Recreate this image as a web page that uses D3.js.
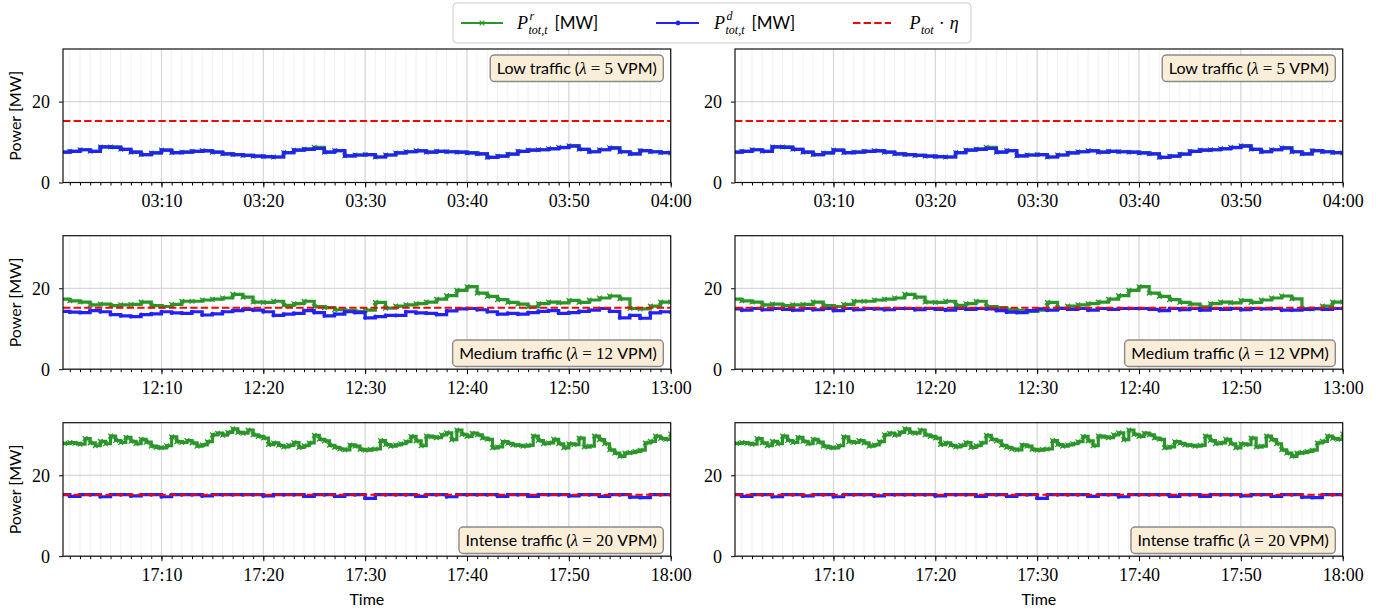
<!DOCTYPE html>
<html>
<head>
<meta charset="utf-8">
<script src="https://cdn.jsdelivr.net/npm/d3@7"></script>
<style>
  body { margin: 0; background: #fff; }
  .tick text { font-family: "Liberation Serif", serif; font-size: 18px; fill: #000; }
  .sans { font-family: "Lato", "Open Sans", sans-serif; }
  .serif { font-family: "Liberation Serif", serif; }
</style>
</head>
<body>
<div id="chart"></div>
<script>
// power values in MW, one value per minute unless noted
const lowReq = [7.5,7.7,8.1,7.7,8.8,8.8,8.2,7.5,6.9,7.3,8.0,7.4,7.5,7.7,7.9,7.5,7.1,6.9,6.7,6.5,
  6.4,6.3,7.4,8.0,8.3,8.7,7.5,7.9,6.6,6.8,6.9,6.3,6.8,7.3,7.6,7.9,7.5,7.7,7.6,7.5,
  7.3,7.1,6.2,6.5,7.0,7.7,8.0,8.1,8.4,8.7,9.1,8.2,7.6,8.1,8.6,7.6,7.1,7.9,7.6,7.4,7.3];
const lowDisp = [7.5,7.7,8.1,7.7,8.8,8.7,8.2,7.5,6.9,7.3,8.0,7.4,7.5,7.7,7.8,7.5,7.1,6.9,6.7,6.5,
  6.4,6.3,7.4,8.0,8.2,8.4,7.5,7.9,6.6,6.8,6.9,6.3,6.8,7.3,7.6,7.8,7.5,7.7,7.6,7.5,
  7.3,7.1,6.2,6.5,7.0,7.7,8.0,8.1,8.3,8.6,9.0,8.2,7.6,8.1,8.5,7.6,7.1,7.9,7.6,7.4,7.3];

const medReq = [17.3,16.9,16.6,15.9,16.1,15.7,15.9,16.0,16.6,15.7,
  15.5,16.0,16.8,16.8,17.1,17.3,17.6,18.5,17.8,16.6,
  16.5,16.8,15.8,16.2,16.8,15.5,15.2,14.7,14.5,14.3,
  14.6,16.5,15.1,15.6,15.9,16.2,16.6,17.3,18.2,19.5,
  20.4,18.8,18.0,17.2,16.5,16.1,15.4,16.2,16.6,16.4,
  17.0,16.5,17.1,17.6,18.1,17.4,15.0,14.9,15.6,16.6,16.6];
const medDispLeft = [14.3,14.1,14.0,14.5,14.2,13.5,13.2,13.0,13.5,13.7,
  14.2,13.9,13.8,14.2,13.4,13.7,14.2,14.5,14.8,14.6,
  14.2,13.3,13.6,13.8,14.5,14.0,13.2,13.6,14.2,14.0,
  12.7,13.0,13.3,13.3,14.2,13.9,13.8,13.5,14.4,14.9,
  15.0,14.7,14.2,13.6,13.8,13.6,14.0,14.3,14.5,13.8,
  14.0,14.3,14.6,15.0,14.3,12.7,13.3,12.6,13.9,14.2,14.1];
const medDispRight = [14.9,14.6,15.0,14.7,15.0,14.8,14.6,15.0,14.7,15.0,
  14.5,15.0,14.7,15.0,14.9,14.7,15.0,15.0,14.7,15.0,
  14.8,14.6,15.0,14.8,15.0,14.9,14.5,14.1,14.0,14.5,
  14.9,14.6,15.0,14.8,15.0,14.6,15.0,14.8,15.0,15.0,
  15.0,14.8,14.5,15.0,14.7,15.0,14.6,15.0,14.8,15.0,
  14.7,15.0,14.9,15.0,14.6,14.6,14.8,15.0,14.8,15.0,15.0];

// one value every 30 s
const highReq = [27.8,27.9,28.1,27.9,27.7,29.1,28.0,27.3,28.4,27.8,
  29.7,28.6,28.1,29.4,28.4,27.8,28.9,28.2,27.2,26.9,
  26.8,27.3,29.5,28.3,28.1,28.6,28.0,27.2,27.5,28.3,
  30.0,30.4,29.9,30.6,31.5,30.6,30.4,31.2,30.0,29.6,
  29.2,27.6,28.0,27.4,27.0,27.4,28.1,26.9,27.3,28.0,
  29.9,28.9,28.5,27.4,26.9,26.5,26.3,27.5,27.2,26.4,
  26.2,26.4,26.5,28.6,27.6,27.2,27.5,27.8,28.3,29.6,
  28.5,27.3,29.7,29.5,29.3,30.0,30.5,28.8,31.2,30.1,
  29.6,30.4,30.0,29.2,28.9,26.8,27.0,28.3,27.9,27.5,
  27.4,27.2,27.4,29.7,28.6,27.8,28.0,28.9,27.8,26.8,
  27.8,27.6,29.2,27.0,27.2,29.7,28.8,27.8,26.3,25.5,
  24.7,25.5,25.6,25.9,26.2,28.0,28.4,29.7,29.1,28.9,30.2];
const highDisp = [15.2,14.8,15.2,15.2,14.7,15.2,15.2,14.9,15.2,15.2,
  14.7,15.2,15.2,15.2,14.9,15.2,15.2,15.2,15.2,15.2,
  14.9,15.2,15.2,15.2,14.8,15.2,15.2,14.8,15.2,15.2,
  14.3,15.2,15.2,15.2,15.2,14.8,15.2,15.2,14.7,15.2,
  15.2,15.2,15.2,14.8,15.2,15.2,14.8,15.2,15.2,15.2,
  14.9,15.2,15.2,14.8,15.2,15.2,14.6,14.5,15.2,15.2,15.2];

const pTotEta = 15.2;
const scenarioNames = ['Low traffic', 'Medium traffic', 'Intense traffic'];
const lambdas = [5, 12, 20];
const startHours = [3, 12, 17];
const yTicks = [0, 20];

const green = '#2a962a', blue = '#2222f5', red = '#ff0000';

const svg = d3.select('#chart').append('svg')
    .attr('width', 1385)
    .attr('height', 614);

const colX = [63, 735], plotW = 607.7,
      rowY = [49, 235.7, 422.7], plotH = 133.5;

const yScale = d3.scaleLinear().domain([0, 33]).range([plotH, 0]);

const rows = [
  { req: lowReq, reqStep: 1, disp: [lowDisp, lowDisp], boxTop: true },
  { req: medReq, reqStep: 1, disp: [medDispLeft, medDispRight], boxTop: false },
  { req: highReq, reqStep: 0.5, disp: [highDisp, highDisp], boxTop: false }
];

function toSeries(base, values, stepMin) {
  return values.map((v, i) => ({ t: d3.timeSecond.offset(base, Math.round(i * stepMin * 60)), v: v }));
}

const xMark = d3.symbol().type(d3.symbolX).size(16);

rows.forEach((row, r) => {
  const base = new Date(2023, 0, 1, startHours[r], 0, 0);
  const xScale = d3.scaleTime()
      .domain([d3.timeSecond.offset(base, 20), d3.timeMinute.offset(base, 60)])
      .range([0, plotW]);
  const minorTicks = xScale.ticks(d3.timeMinute.every(1));
  const majorTicks = xScale.ticks(d3.timeMinute.every(10));
  const reqData = toSeries(base, row.req, row.reqStep);

  [0, 1].forEach(c => {
    const g = svg.append('g')
        .attr('transform', 'translate(' + colX[c] + ',' + rowY[r] + ')');
    const clipId = 'clip' + r + c;
    g.append('clipPath').attr('id', clipId)
      .append('rect').attr('x', 0).attr('y', -4).attr('width', plotW).attr('height', plotH + 8);

    // grid
    g.append('g').selectAll('line')
        .data(minorTicks)
      .enter().append('line')
        .attr('x1', d => xScale(d)).attr('x2', d => xScale(d))
        .attr('y1', 0).attr('y2', plotH)
        .style('stroke', '#efefef').style('stroke-width', 0.9);
    g.append('g').selectAll('line')
        .data(majorTicks)
      .enter().append('line')
        .attr('x1', d => xScale(d)).attr('x2', d => xScale(d))
        .attr('y1', 0).attr('y2', plotH)
        .style('stroke', '#d8d8d8').style('stroke-width', 1.2);
    g.append('g').selectAll('line')
        .data(yTicks)
      .enter().append('line')
        .attr('x1', 0).attr('x2', plotW)
        .attr('y1', d => yScale(d)).attr('y2', d => yScale(d))
        .style('stroke', '#d8d8d8').style('stroke-width', 1.2);

    // axes
    const minorAxis = g.append('g')
        .attr('transform', 'translate(0,' + plotH + ')')
        .call(d3.axisBottom(xScale).tickValues(minorTicks).tickSize(3).tickFormat(''));
    minorAxis.select('.domain').remove();
    const majorAxis = g.append('g')
        .attr('transform', 'translate(0,' + plotH + ')')
        .call(d3.axisBottom(xScale).tickValues(majorTicks).tickSize(5).tickFormat(d3.timeFormat('%H:%M')));
    majorAxis.select('.domain').remove();
    majorAxis.selectAll('.tick text').attr('dy', null).attr('y', 24.5);

    const yAxis = g.append('g')
        .call(d3.axisLeft(yScale).tickValues(yTicks).tickSize(4).tickPadding(9));
    yAxis.select('.domain').remove();
    yAxis.selectAll('.tick text').attr('dy', '0.34em');

    const plot = g.append('g').attr('clip-path', 'url(#' + clipId + ')');
    const line = d3.line()
        .x(d => xScale(d.t))
        .y(d => yScale(d.v))
        .curve(d3.curveStepAfter);

    plot.append('path')
        .datum(reqData)
        .attr('d', line)
        .style('fill', 'none').style('stroke', green).style('stroke-width', 3.2);
    plot.append('g').selectAll('path')
        .data(reqData)
      .enter().append('path')
        .attr('transform', d => 'translate(' + xScale(d.t) + ',' + yScale(d.v) + ')')
        .attr('d', xMark)
        .style('stroke', green).style('stroke-width', 1.2).style('fill', 'none');

    const dispData = toSeries(base, row.disp[c], 1);
    plot.append('path')
        .datum(dispData)
        .attr('d', line)
        .style('fill', 'none').style('stroke', blue).style('stroke-width', 3.2);
    plot.append('g').selectAll('circle')
        .data(dispData)
      .enter().append('circle')
        .attr('cx', d => xScale(d.t)).attr('cy', d => yScale(d.v))
        .attr('r', 2)
        .style('fill', blue);

    plot.append('line')
        .attr('x1', 0).attr('x2', plotW)
        .attr('y1', yScale(pTotEta)).attr('y2', yScale(pTotEta))
        .style('stroke', red).style('stroke-width', 2).style('stroke-dasharray', '7.4,3.2');

    g.append('rect')
        .attr('width', plotW).attr('height', plotH)
        .style('fill', 'none').style('stroke', '#111').style('stroke-width', 1.2);

    // scenario label box
    const boxG = g.append('g');
    const label = boxG.append('text')
        .attr('class', 'sans')
        .style('font-size', '16px');
    label.append('tspan').attr('class', 'sans').text(scenarioNames[r] + ' (');
    label.append('tspan').attr('class', 'serif').style('font-style', 'italic').style('font-size', '17px').text('λ');
    label.append('tspan').attr('class', 'serif').style('font-size', '17px').text(' = ' + lambdas[r]);
    label.append('tspan').attr('class', 'sans').text(' VPM)');
    const tw = label.node().getComputedTextLength();
    const boxW = tw + 13, boxH = 26.5;
    const bx = plotW - 7.4 - boxW;
    const by = row.boxTop ? 6 : plotH - 2.7 - boxH;
    boxG.insert('rect', 'text')
        .attr('x', bx).attr('y', by)
        .attr('width', boxW).attr('height', boxH)
        .attr('rx', 4)
        .style('fill', '#faeed9').style('stroke', '#8a8a8a').style('stroke-width', 1.4);
    label.attr('x', bx + 6.5).attr('y', by + boxH / 2 + 5.5);

    if (c === 0) {
      g.append('text')
          .attr('class', 'sans')
          .attr('transform', 'translate(-42,' + plotH / 2 + ') rotate(-90)')
          .attr('text-anchor', 'middle')
          .style('font-size', '16px')
          .text('Power [MW]');
    }
    if (r === 2) {
      g.append('text')
          .attr('class', 'sans')
          .attr('x', plotW / 2).attr('y', plotH + 49)
          .attr('text-anchor', 'middle')
          .style('font-size', '16px')
          .text('Time');
    }
  });
});

// legend
const legend = svg.append('g');
legend.append('rect')
    .attr('x', 453).attr('y', 3).attr('width', 518).attr('height', 40)
    .attr('rx', 4)
    .style('fill', '#fff').style('stroke', '#cccccc').style('stroke-width', 1);

const ly = 23;
legend.append('line').attr('x1', 461).attr('x2', 503).attr('y1', ly).attr('y2', ly)
    .style('stroke', green).style('stroke-width', 2.2);
legend.append('path').attr('transform', 'translate(482,' + ly + ')').attr('d', xMark)
    .style('stroke', green).style('stroke-width', 1.3).style('fill', 'none');
legend.append('line').attr('x1', 656).attr('x2', 699).attr('y1', ly).attr('y2', ly)
    .style('stroke', blue).style('stroke-width', 2.2);
legend.append('circle').attr('cx', 678).attr('cy', ly).attr('r', 2.4).style('fill', blue);
legend.append('line').attr('x1', 853).attr('x2', 891).attr('y1', ly).attr('y2', ly)
    .style('stroke', red).style('stroke-width', 2).style('stroke-dasharray', '7.4,3.2');

function mathP(x, sup, sub) {
  const t = legend.append('text').attr('class', 'serif').attr('x', x).attr('y', ly + 6)
      .style('font-style', 'italic').style('font-size', '18px').text('P');
  const w = t.node().getComputedTextLength();
  if (sup) {
    legend.append('text').attr('class', 'serif').attr('x', x + w + 1.5).attr('y', ly - 3)
        .style('font-style', 'italic').style('font-size', '12px').text(sup);
  }
  const s = legend.append('text').attr('class', 'serif').attr('x', x + w + 0.5).attr('y', ly + 10.5)
      .style('font-style', 'italic').style('font-size', '12px').text(sub);
  return x + w + 0.5 + s.node().getComputedTextLength();
}

let e1 = mathP(517, 'r', 'tot,t');
legend.append('text').attr('class', 'sans').attr('x', e1 + 7).attr('y', ly + 6)
    .style('font-size', '17px').text('[MW]');
let e2 = mathP(714, 'd', 'tot,t');
legend.append('text').attr('class', 'sans').attr('x', e2 + 7).attr('y', ly + 6)
    .style('font-size', '17px').text('[MW]');
let e3 = mathP(909.5, null, 'tot');
const dot = legend.append('text').attr('class', 'serif').attr('x', e3 + 5).attr('y', ly + 6)
    .style('font-size', '18px').text('·');
legend.append('text').attr('class', 'serif').attr('x', e3 + 5 + dot.node().getComputedTextLength() + 5).attr('y', ly + 6)
    .style('font-style', 'italic').style('font-size', '18px').text('η');
</script>
</body>
</html>
